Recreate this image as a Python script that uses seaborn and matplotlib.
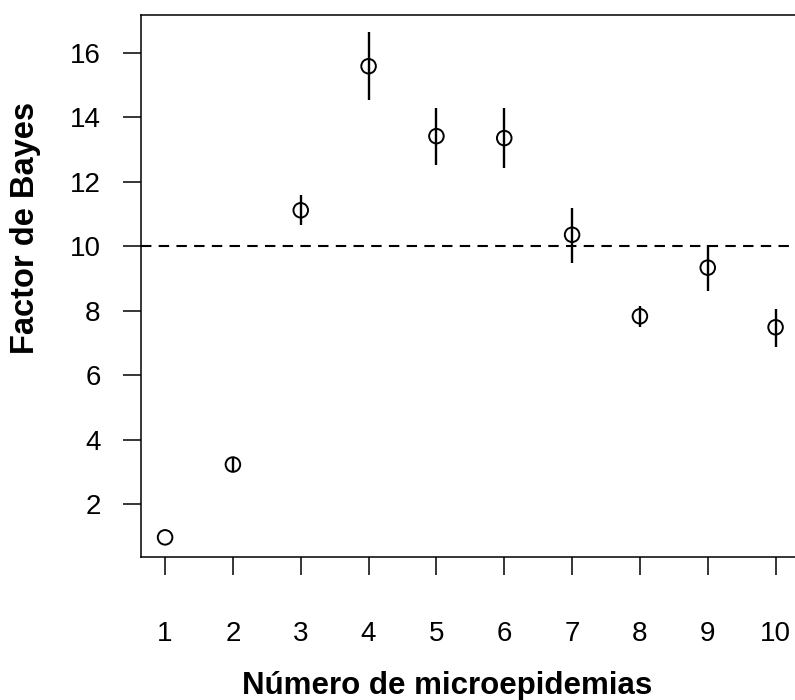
import matplotlib
matplotlib.use("Agg")
import matplotlib.pyplot as plt
import seaborn as sns
import pandas as pd

# Data
n_micro = [1, 2, 3, 4, 5, 6, 7, 8, 9, 10]
bayes_factor = [0.97, 3.23, 11.12, 15.59, 13.42, 13.36, 10.36, 7.83, 9.34, 7.49]
err_low = [0.97, 3.03, 10.65, 14.53, 12.52, 12.43, 9.49, 7.49, 8.61, 6.87]
err_high = [0.97, 3.44, 11.60, 16.65, 14.29, 14.28, 11.20, 8.14, 10.03, 8.07]
threshold = 10
x_ticks = [1, 2, 3, 4, 5, 6, 7, 8, 9, 10]
y_ticks = [2, 4, 6, 8, 10, 12, 14, 16]

df = pd.DataFrame({"n": n_micro, "bf": bayes_factor, "lo": err_low, "hi": err_high})

sns.set_theme(style="white")
plt.rcParams["font.family"] = ["Liberation Sans", "DejaVu Sans"]

fig = plt.figure(figsize=(7.95, 7.0), dpi=100)
ax = fig.add_axes([141 / 795, 1 - 556.7 / 700, (800 - 141) / 795, (556.7 - 15) / 700])

# error bars
ax.vlines(df["n"], df["lo"], df["hi"], color="black", linewidth=1.7, zorder=2)

# open circle points
sns.scatterplot(data=df, x="n", y="bf", ax=ax, marker="o", s=110,
                facecolor="none", edgecolor="black", linewidth=1.4, zorder=3,
                legend=False)

ax.axhline(threshold, color="black", linewidth=1.5, dashes=(5, 3.5), zorder=1)

ax.set_xlim(0.645, 10.36)
ax.set_ylim(0.37, 17.18)
ax.set_xticks(x_ticks)
ax.set_yticks(y_ticks)
ax.set_xticklabels([str(t) for t in x_ticks])
ax.set_yticklabels([str(t) for t in y_ticks])

for sp in ax.spines.values():
    sp.set_visible(True)
    sp.set_color("black")
    sp.set_linewidth(1.1)

ax.tick_params(axis="both", which="major", direction="out", length=13, width=1.1,
               color="black", labelsize=20, labelcolor="black",
               bottom=True, left=True, top=False, right=False)
ax.tick_params(axis="x", pad=33)
ax.tick_params(axis="y", pad=16)

ax.set_xlabel("")
ax.set_ylabel("")
fig.text(447 / 795, 1 - 694 / 700, "Número de microepidemias", ha="center", va="baseline",
         fontsize=22.5, fontweight="bold", color="black")
fig.text(34 / 795, 1 - 228 / 700, "Factor de Bayes", ha="center", va="baseline",
         rotation=90, rotation_mode="anchor", fontsize=23.5, fontweight="bold", color="black")

fig.savefig("out.png", dpi=100)
